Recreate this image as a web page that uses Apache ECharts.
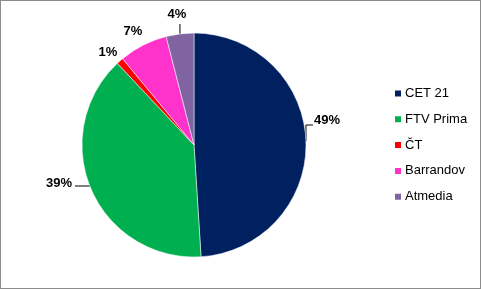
<!DOCTYPE html>
<html><head><meta charset="utf-8">
<script src="https://cdn.jsdelivr.net/npm/echarts@6/dist/echarts.min.js"></script>
<style>html,body{margin:0;padding:0;background:#fff}#c{width:481px;height:289px;box-sizing:border-box;border:1px solid #8c8c8c}</style>
</head><body><div id="c"></div>
<script>
const categories = ['CET 21', 'FTV Prima', 'ČT', 'Barrandov', 'Atmedia'];
const values = [49, 39, 1, 7, 4];
const colors = ['#002060', '#00B050', '#FF0000', '#FF33CC', '#8064A2'];

// label placement (layout only, not data)
const labelPlace = [
  {x: 326, y: 119, line: 'elbow'},
  {x: 58, y: 182, line: 'h'},
  {x: 107, y: 51, line: 'none'},
  {x: 132, y: 30, line: 'none'},
  {x: 176, y: 13, line: 'v'}
];

const chart = echarts.init(document.getElementById('c'), null, {renderer: 'canvas'});
chart.setOption({
  animation: false,
  color: colors,
  legend: {
    orient: 'vertical', left: 392, top: 86, padding: 0,
    itemWidth: 8, itemHeight: 8, itemGap: 12.8, icon: 'rect',
    textStyle: {fontFamily: 'Liberation Sans', fontSize: 13, color: '#000', padding: [0, 0, 0, -2]},
    data: categories
  },
  series: [{
    type: 'pie',
    center: [193, 144], radius: 112,
    startAngle: 90, clockwise: true,
    label: {show: true, position: 'outside', formatter: '{d}%',
      fontFamily: 'Liberation Sans', fontWeight: 'bold', fontSize: 13, color: '#000'},
    labelLine: {show: true, length: 8, length2: 6, lineStyle: {color: '#000', width: 1}},
    itemStyle: {borderColor: '#fff', borderWidth: 0.5},
    emphasis: {disabled: true},
    labelLayout: function (p) {
      const lp = labelPlace[p.dataIndex];
      const out = {x: lp.x, y: lp.y, align: 'center', verticalAlign: 'middle'};
      const pts = p.labelLinePoints;
      if (pts && pts.length) {
        const p0 = pts[0];
        if (lp.line === 'elbow') out.labelLinePoints = [[p0[0], p0[1]], [p0[0], lp.y + 5], [lp.x - 14, lp.y + 5]];
        else if (lp.line === 'h') out.labelLinePoints = [[p0[0], lp.y + 3], [lp.x + 16, lp.y + 3]];
        else if (lp.line === 'v') out.labelLinePoints = [[p0[0], p0[1]], [p0[0], lp.y + 10]];
      }
      return out;
    },
    data: categories.map((n, i) => ({
      name: n, value: values[i],
      labelLine: {show: labelPlace[i].line !== 'none'}
    }))
  }]
});
</script></body></html>
